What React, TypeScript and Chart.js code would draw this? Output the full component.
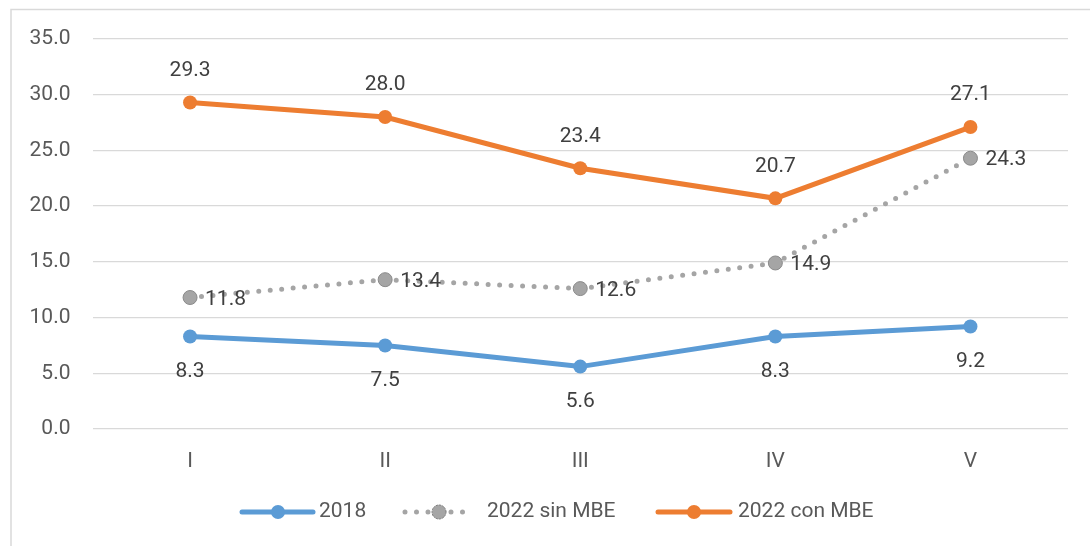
import React, { useEffect, useRef } from "react";
import { Chart, registerables } from "chart.js";

Chart.register(...registerables);

const categories = ["I", "II", "III", "IV", "V"];
const s2018 = [8.3, 7.5, 5.6, 8.3, 9.2];
const sSin = [11.8, 13.4, 12.6, 14.9, 24.3];
const sCon = [29.3, 28.0, 23.4, 20.7, 27.1];
const seriesNames = ["2018", "2022 sin MBE", "2022 con MBE"];
const yTicks = [0, 5, 10, 15, 20, 25, 30, 35];

const BLUE = "#5b9bd5";
const GRAY = "#a5a5a5";
const ORANGE = "#ed7d31";
const FONT = "Roboto, 'Noto Sans', sans-serif";
const FS = 21;

const labelPlugin = {
  id: "customDraw",
  beforeDraw(chart: any) {
    const ctx = chart.ctx;
    ctx.save();
    ctx.strokeStyle = "#d9d9d9";
    ctx.lineWidth = 1.5;
    ctx.beginPath();
    ctx.moveTo(11, 2000);
    ctx.lineTo(11, 9.5);
    ctx.lineTo(2000, 9.5);
    ctx.stroke();
    ctx.restore();
  },
  afterDatasetsDraw(chart: any) {
    const ctx = chart.ctx;
    ctx.save();
    ctx.font = `${FS}px ${FONT}`;
    ctx.fillStyle = "#404040";
    chart.data.datasets.forEach((ds: any, di: number) => {
      const meta = chart.getDatasetMeta(di);
      meta.data.forEach((pt: any, i: number) => {
        const v = (ds.data[i] as number).toFixed(1);
        ctx.textBaseline = "middle";
        if (di === 0) {
          ctx.textAlign = "center";
          ctx.fillText(v, pt.x, pt.y + 35);
        } else if (di === 1) {
          ctx.textAlign = "left";
          ctx.fillText(v, pt.x + 15, pt.y + 2);
        } else {
          ctx.textAlign = "center";
          ctx.fillText(v, pt.x, pt.y - 32);
        }
      });
    });
    ctx.restore();
  },
  afterDraw(chart: any) {
    const ctx = chart.ctx;
    ctx.save();
    const y = 512;
    const items = [
      { x0: 242, x1: 313, mx: 278, tx: 319, color: BLUE, dotted: false },
      { x0: 405, x1: 470, mx: 439, tx: 487, color: GRAY, dotted: true },
      { x0: 658, x1: 730, mx: 694, tx: 738, color: ORANGE, dotted: false },
    ];
    items.forEach((it, i) => {
      ctx.strokeStyle = it.color;
      ctx.lineWidth = 5;
      ctx.lineCap = "round";
      ctx.setLineDash(it.dotted ? [0, 11.5] : []);
      ctx.beginPath();
      ctx.moveTo(it.x0, y);
      ctx.lineTo(it.x1, y);
      ctx.stroke();
      ctx.setLineDash([]);
      ctx.fillStyle = it.color;
      ctx.beginPath();
      ctx.arc(it.mx, y, 7, 0, Math.PI * 2);
      ctx.fill();
      if (it.dotted) {
        ctx.strokeStyle = "#7f7f7f";
        ctx.lineWidth = 1;
        ctx.setLineDash([1.5, 1.5]);
        ctx.stroke();
        ctx.setLineDash([]);
      }
      ctx.fillStyle = "#595959";
      ctx.font = `${FS}px ${FONT}`;
      ctx.textAlign = "left";
      ctx.textBaseline = "middle";
      ctx.fillText(seriesNames[i], it.tx, y);
    });
    ctx.restore();
  },
};

export default function App() {
  const ref = useRef<HTMLCanvasElement>(null);
  useEffect(() => {
    if (!ref.current) return;
    const chart = new Chart(ref.current, {
      type: "line",
      data: {
        labels: categories,
        datasets: [
          {
            label: seriesNames[0],
            data: s2018,
            borderColor: BLUE,
            backgroundColor: BLUE,
            borderWidth: 5,
            pointRadius: 7,
            pointBorderWidth: 0,
            pointBackgroundColor: BLUE,
            tension: 0,
          },
          {
            label: seriesNames[1],
            data: sSin,
            borderColor: GRAY,
            backgroundColor: GRAY,
            borderWidth: 5,
            borderDash: [0, 11.5],
            borderCapStyle: "round",
            pointRadius: 7,
            pointBorderWidth: 1,
            pointBorderColor: "#8a8a8a",
            pointBackgroundColor: GRAY,
            tension: 0,
          },
          {
            label: seriesNames[2],
            data: sCon,
            borderColor: ORANGE,
            backgroundColor: ORANGE,
            borderWidth: 5,
            pointRadius: 7,
            pointBorderWidth: 0,
            pointBackgroundColor: ORANGE,
            tension: 0,
          },
        ],
      },
      options: {
        animation: false,
        responsive: false,
        layout: { padding: { left: 0, right: 22, top: 39, bottom: 0 } },
        plugins: {
          legend: { display: false },
          tooltip: { enabled: false },
        },
        scales: {
          x: {
            offset: true,
            grid: { display: false, drawTicks: false },
            border: { display: false },
            ticks: {
              padding: 20,
              color: "#595959",
              font: { family: FONT, size: FS },
            },
            afterFit: (s: any) => {
              s.height = 117;
            },
          },
          y: {
            min: 0,
            max: 35,
            afterBuildTicks: (s: any) => {
              s.ticks = yTicks.map((v) => ({ value: v }));
            },
            grid: { color: "#d9d9d9", lineWidth: 1.3, drawTicks: false },
            border: { display: false },
            ticks: {
              padding: 22,
              color: "#595959",
              font: { family: FONT, size: FS },
              callback: (v: any) => Number(v).toFixed(1),
            },
            afterFit: (s: any) => {
              s.width = 92.5;
            },
          },
        },
      },
      plugins: [labelPlugin],
    });
    return () => chart.destroy();
  }, []);
  return (
    <div style={{ position: "absolute", left: 0, top: 0, width: 1090, height: 546, background: "#fff" }}>
      <canvas ref={ref} width={1090} height={546} style={{ display: "block" }} />
    </div>
  );
}
